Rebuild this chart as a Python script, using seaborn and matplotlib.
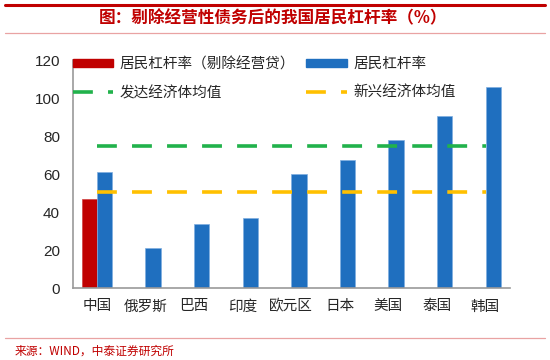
import matplotlib
matplotlib.use('Agg')
import matplotlib.pyplot as plt
import pandas as pd
import seaborn as sns
from matplotlib.lines import Line2D
from matplotlib.patches import Patch

# Data
countries = ['中国', '俄罗斯', '巴西', '印度', '欧元区', '日本', '美国', '泰国', '韩国']
leverage = [61.3, 21.5, 33.7, 36.9, 60.0, 67.4, 78.0, 90.7, 106.2]
leverage_ex_biz = [47.1]          # only China
dev_avg = 74.9
emg_avg = 50.9

s_red = '居民杠杆率（剔除经营贷）'
s_blue = '居民杠杆率'
s_dev = '发达经济体均值'
s_emg = '新兴经济体均值'

rows = [{'country': countries[0], 'series': s_red, 'value': leverage_ex_biz[0]}]
rows += [{'country': c, 'series': s_blue, 'value': v} for c, v in zip(countries, leverage)]
df = pd.DataFrame(rows)

sns.set_style('white')
plt.rcParams['font.family'] = ['Liberation Sans', 'Noto Sans CJK SC', 'DejaVu Sans']

red = '#C00000'
blue = '#1F6FBF'
green = '#21B24B'
yellow = '#FFC000'
dash = (0, (5.5, 4.2))

fig = plt.figure(figsize=(5.5, 3.6), dpi=100)
ax = fig.add_axes([0.132, 0.199, 0.795, 0.633])

sns.barplot(data=df, x='country', y='value', hue='series', order=countries,
            hue_order=[s_red, s_blue], palette=[red, blue], width=0.63, saturation=1,
            edgecolor='#7FAEE0', linewidth=0.5, ax=ax, legend=False)
for p in ax.patches:
    if p.get_facecolor()[0] > 0.5:
        p.set_edgecolor('#D04040')

ax.hlines(dev_avg, 0, len(countries) - 1, color=green, lw=2.6, linestyles=dash, zorder=3)
ax.hlines(emg_avg, 0, len(countries) - 1, color=yellow, lw=2.6, linestyles=dash, zorder=3)

ax.set_xlim(-0.5, len(countries) - 0.5)
ax.set_ylim(0, 120)
ax.set_yticks(range(0, 121, 20))
ax.set_xticks([i - 0.5 for i in range(len(countries) + 1)])
ax.set_xticklabels([])
ax.set_xticks(range(len(countries)), minor=True)
ax.set_xticklabels(countries, minor=True, fontsize=10.5, family=['Noto Sans CJK SC'])
ax.tick_params(axis='x', which='major', length=5, width=1, color='#999999', direction='out')
ax.tick_params(axis='x', which='minor', length=0, pad=8)
ax.tick_params(axis='y', length=5, width=1, color='#999999', direction='out', labelsize=11, pad=4)
ax.set_xlabel('')
ax.set_ylabel('')
for side in ['top', 'right']:
    ax.spines[side].set_visible(False)
for side in ['left', 'bottom']:
    ax.spines[side].set_color('#999999')
    ax.spines[side].set_linewidth(1.2)

handles = [Patch(color=red), Line2D([], [], color=green, lw=2.6, ls=dash),
           Patch(color=blue), Line2D([], [], color=yellow, lw=2.6, ls=dash)]
labels = [s_red, s_dev, s_blue, s_emg]
ax.legend(handles, labels, ncol=2, loc='upper left', bbox_to_anchor=(0.0, 1.015),
          frameon=False, prop={'family': 'Noto Sans CJK SC', 'size': 10.5},
          handlelength=2.8, handleheight=0.55, handletextpad=0.4, columnspacing=0.8,
          labelspacing=1.0, borderpad=0, borderaxespad=0)

# header / footer decorations
fig.add_artist(Line2D([5 / 550, 545 / 550], [1 - 5 / 360] * 2, color=red, lw=2.2))
fig.add_artist(Line2D([5 / 550, 545 / 550], [1 - 33 / 360] * 2, color='#E9A3A3', lw=0.9))
fig.add_artist(Line2D([5 / 550, 545 / 550], [1 - 338 / 360] * 2, color='#E9A3A3', lw=0.9))
fig.text(273 / 550, 1 - 18 / 360, '图：剔除经营性债务后的我国居民杠杆率（%）', color=red,
         fontsize=12, fontweight='bold', ha='center', va='center',
         family=['Noto Sans CJK SC', 'DejaVu Sans'])
fig.text(15 / 550, 1 - 351 / 360, '来源：WIND，中泰证券研究所', color=red, fontsize=8.5,
         ha='left', va='center', family=['Noto Sans CJK SC', 'DejaVu Sans'])

fig.savefig('out.png', dpi=100)
